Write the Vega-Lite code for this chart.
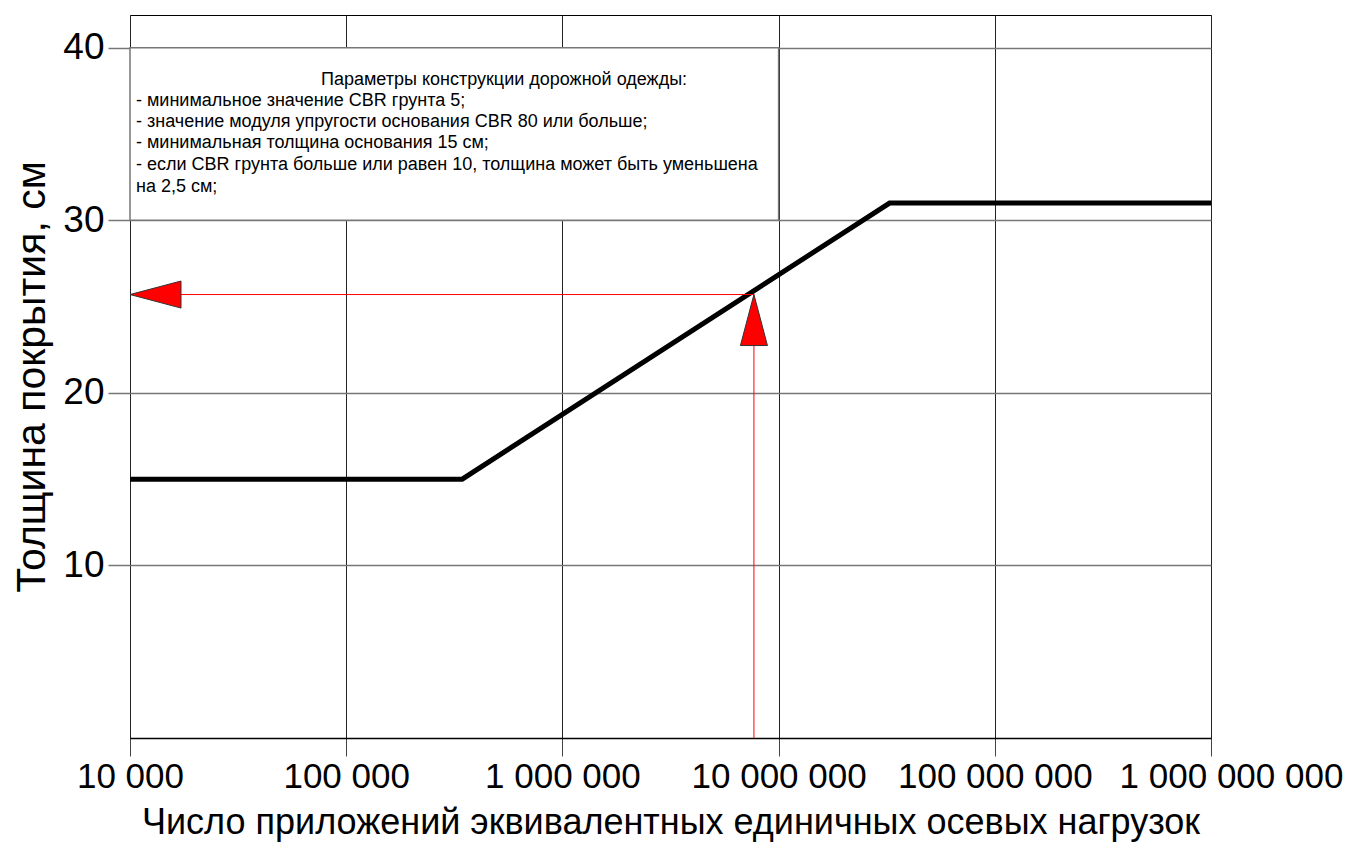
{
  "$schema": "https://vega.github.io/schema/vega-lite/v6.json",
  "width": 1081,
  "height": 723,
  "autosize": {"type": "none"},
  "padding": {"left": 130, "top": 15, "right": 140, "bottom": 123},
  "background": "white",
  "config": {
    "view": {"stroke": "#000000", "strokeWidth": 1},
    "font": "Liberation Sans",
    "axis": {"labelFont": "Liberation Sans", "titleFont": "Liberation Sans", "labelColor": "#000", "titleColor": "#000", "titleFontWeight": "normal", "labelLimit": 0, "titleLimit": 0}
  },
  "datasets": {
    "curve": [
      {"n": 10000, "t": 15},
      {"n": 344000, "t": 15},
      {"n": 32600000, "t": 31},
      {"n": 1000000000, "t": 31}
    ],
    "box": [{"n1": 10000, "n2": 10000000, "t1": 30, "t2": 40}],
    "heading": [
      {"n": 537000, "t": 38.14, "txt": "Параметры конструкции дорожной одежды:"}
    ],
    "notes": [
      {"n": 10000, "t": 36.93, "txt": "- минимальное значение CBR грунта 5;"},
      {"n": 10000, "t": 35.71, "txt": "- значение модуля упругости основания CBR 80 или больше;"},
      {"n": 10000, "t": 34.49, "txt": "- минимальная толщина основания 15 см;"},
      {"n": 10000, "t": 33.22, "txt": "\u00a0- если CBR грунта больше или равен 10, толщина может быть уменьшена"},
      {"n": 10000, "t": 31.94, "txt": "на 2,5 см;"}
    ],
    "arrowV": [{"n": 7690000, "t0": 0, "t": 25.7}],
    "arrowH": [{"n0": 10000, "n": 7690000, "t": 25.7}]
  },
  "encoding": {},
  "layer": [
    {
      "data": {"name": "box"},
      "mark": {"type": "rect", "fill": "white", "stroke": "#777777", "strokeWidth": 1.5},
      "encoding": {
        "x": {"field": "n1", "type": "quantitative", "scale": {"type": "log", "domain": [10000, 1000000000], "nice": false},
          "axis": {
            "values": [10000, 100000, 1000000, 10000000, 100000000, 1000000000],
            "labelExpr": "datum.value == 10000 ? '10 000' : datum.value == 100000 ? '100 000' : datum.value == 1000000 ? '1 000 000' : datum.value == 10000000 ? '10 000 000' : datum.value == 100000000 ? '100 000 000' : '1 000 000 000'",
            "grid": true, "gridColor": "#222222", "gridWidth": 1, "gridOpacity": 1,
            "tickSize": 18, "tickColor": "#444444", "tickWidth": 1,
            "domainColor": "#000000", "domainWidth": 1.5,
            "labelFontSize": 35, "labelPadding": 3, "labelFlush": false, "labelOverlap": false,
            "labelOffset": {"condition": {"test": "datum.value == 1000000000", "value": 20}, "value": 0},
            "title": "Число приложений эквивалентных единичных осевых нагрузок",
            "titleFontSize": 36, "titlePadding": 11
          }},
        "x2": {"field": "n2"},
        "y": {"field": "t1", "type": "quantitative", "scale": {"domain": [0, 41.9], "nice": false, "zero": false},
          "axis": {
            "values": [10, 20, 30, 40],
            "grid": true, "gridColor": "#777777", "gridWidth": 1.5, "gridOpacity": 1,
            "tickSize": 22, "tickColor": "#777777", "tickWidth": 1.5,
            "domain": false,
            "labelFontSize": 37, "labelPadding": 4,
            "title": "Толщина покрытия, см",
            "titleFontSize": 41, "titlePadding": 9
          }},
        "y2": {"field": "t2"}
      }
    },
    {
      "data": {"name": "heading"},
      "mark": {"type": "text", "fontSize": 18, "baseline": "middle", "align": "center", "color": "#000"},
      "encoding": {
        "x": {"field": "n", "type": "quantitative"},
        "y": {"field": "t", "type": "quantitative"},
        "text": {"field": "txt"}
      }
    },
    {
      "data": {"name": "notes"},
      "mark": {"type": "text", "fontSize": 18, "baseline": "middle", "align": "left", "dx": 6, "color": "#000"},
      "encoding": {
        "x": {"field": "n", "type": "quantitative"},
        "y": {"field": "t", "type": "quantitative"},
        "text": {"field": "txt"}
      }
    },
    {
      "data": {"name": "curve"},
      "mark": {"type": "line", "color": "#000000", "strokeWidth": 5, "strokeJoin": "miter"},
      "encoding": {
        "x": {"field": "n", "type": "quantitative"},
        "y": {"field": "t", "type": "quantitative"}
      }
    },
    {
      "data": {"name": "arrowV"},
      "mark": {"type": "rule", "color": "#ff0000", "strokeWidth": 1},
      "encoding": {
        "x": {"field": "n", "type": "quantitative"},
        "y": {"field": "t0", "type": "quantitative"},
        "y2": {"field": "t"}
      }
    },
    {
      "data": {"name": "arrowH"},
      "mark": {"type": "rule", "color": "#ff0000", "strokeWidth": 1},
      "encoding": {
        "x": {"field": "n0", "type": "quantitative"},
        "x2": {"field": "n"},
        "y": {"field": "t", "type": "quantitative"}
      }
    },
    {
      "data": {"name": "arrowV"},
      "mark": {"type": "point", "shape": "M0,0L0.53,2L-0.53,2Z", "size": 2601, "filled": true, "fill": "#ff0000", "stroke": "#333333", "strokeWidth": 1, "opacity": 1},
      "encoding": {
        "x": {"field": "n", "type": "quantitative"},
        "y": {"field": "t", "type": "quantitative"}
      }
    },
    {
      "data": {"name": "arrowH"},
      "mark": {"type": "point", "shape": "M0,0L2,-0.53L2,0.53Z", "size": 2601, "filled": true, "fill": "#ff0000", "stroke": "#333333", "strokeWidth": 1, "opacity": 1},
      "encoding": {
        "x": {"field": "n0", "type": "quantitative"},
        "y": {"field": "t", "type": "quantitative"}
      }
    }
  ]
}
